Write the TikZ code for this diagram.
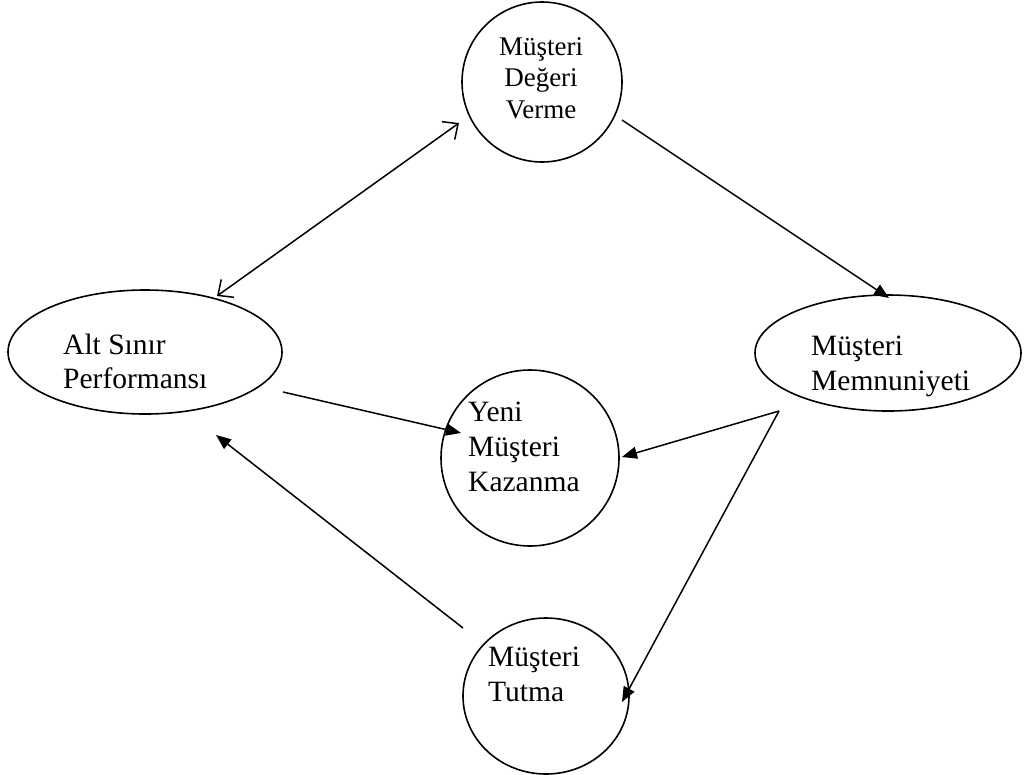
\documentclass[tikz,border=0pt]{standalone}
\usepackage{fontspec}
\setmainfont{Liberation Serif}
\usetikzlibrary{arrows.meta,shapes.geometric}
\tikzset{
  outline/.style={draw, ellipse, line width=1.6pt, inner sep=0pt},
  caption/.style={inner sep=0pt, align=left, anchor=base west, font=\fontsize{29.5}{35}\selectfont},
  flow/.style={line width=1.5pt, -{Triangle[length=15pt,width=12pt]}},
  twoway/.style={line width=1.5pt, {Straight Barb[length=12pt,width=22pt]}-{Straight Barb[length=12pt,width=22pt]}}
}
\begin{document}
\begin{tikzpicture}[x=1pt,y=-1pt]
\useasboundingbox (0,0) rectangle (1024,774);

% outlines
\node[outline, minimum width=160pt, minimum height=160pt] (deger) at (542,82) {};
\node[outline, minimum width=274pt, minimum height=124pt] (alt) at (145,352) {};
\node[outline, minimum width=266pt, minimum height=116pt] (memnun) at (888,353) {};
\node[outline, minimum width=178pt, minimum height=176pt] (yeni) at (530,458) {};
\node[outline, minimum width=166pt, minimum height=156pt] (tutma) at (546,696) {};

% texts (anchored at the baseline of the last line)
\node[caption, align=center, anchor=base, font=\fontsize{27}{31.5}\selectfont] (tdeger) at (541,118) {Müşteri\\Değeri\\Verme};
\node[caption, font=\fontsize{29.5}{34}\selectfont] (talt) at (63,388) {Alt Sınır\\Performansı};
\node[caption] (tmemnun) at (811,390) {Müşteri\\Memnuniyeti};
\node[caption] (tyeni) at (468,491) {Yeni\\Müşteri\\Kazanma};
\node[caption] (ttutma) at (488,701) {Müşteri\\Tutma};

% connector end points
\coordinate (a1) at (217,296);
\coordinate (a2) at (459,123);
\coordinate (b1) at (622,120);
\coordinate (b2) at (889,298);
\coordinate (c0) at (779,411);
\coordinate (c1) at (622,457);
\coordinate (c2) at (622,702);
\coordinate (d1) at (283,392);
\coordinate (d2) at (461,433);
\coordinate (e1) at (463,628);
\coordinate (e2) at (216,435);

% connectors
\draw[twoway] (a1) -- (a2);
\draw[flow] (b1) -- (b2);
\draw[flow] (c0) -- (c1);
\draw[flow] (c0) -- (c2);
\draw[flow] (d1) -- (d2);
\draw[flow] (e1) -- (e2);
\end{tikzpicture}
\end{document}
